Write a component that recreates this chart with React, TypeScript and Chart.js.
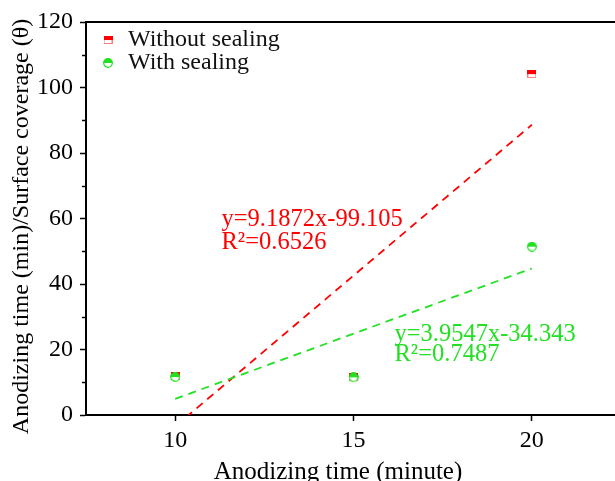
import React, { useEffect, useRef } from 'react';
import { Chart, registerables } from 'chart.js';

Chart.register(...registerables);

// ---- data ----
const seriesNames = ['Without sealing', 'With sealing'];
const anodizingTime = [10, 15, 20];
const withoutSealing = [12.0, 11.6, 104.1];
const withSealing = [11.6, 11.5, 51.4];
const xTickValues = [10, 15, 20];
const yTickValues = [0, 20, 40, 60, 80, 100, 120];
const yMinorTickValues = [10, 30, 50, 70, 90, 110];
const fitLabelsWithout = ['y=9.1872x-99.105', 'R²=0.6526'];
const fitLabelsWith = ['y=3.9547x-34.343', 'R²=0.7487'];
const xTitle = 'Anodizing time (minute)';
const yTitle = 'Anodizing time (min)/Surface coverage (θ)';

const RED = '#ff0000';
const GREEN = '#22e022';
const FONT = "'Liberation Serif', 'Times New Roman', serif";

function linearFit(xs: number[], ys: number[]) {
  const n = xs.length;
  const mx = xs.reduce((a, b) => a + b, 0) / n;
  const my = ys.reduce((a, b) => a + b, 0) / n;
  let sxy = 0, sxx = 0;
  for (let i = 0; i < n; i++) {
    sxy += (xs[i] - mx) * (ys[i] - my);
    sxx += (xs[i] - mx) * (xs[i] - mx);
  }
  const slope = sxy / sxx;
  const icpt = my - slope * mx;
  const x0 = Math.min(...xs), x1 = Math.max(...xs);
  return [{ x: x0, y: slope * x0 + icpt }, { x: x1, y: slope * x1 + icpt }];
}

function makeSquare(fill: string, edge: string) {
  const c = document.createElement('canvas');
  c.width = 9; c.height = 8;
  const g = c.getContext('2d')!;
  g.fillStyle = '#ffffff';
  g.fillRect(0, 0, 9, 8);
  g.strokeStyle = edge; g.lineWidth = 1;
  g.strokeRect(0.5, 0.5, 8, 7);
  g.fillStyle = fill;
  g.fillRect(0, 0, 9, 4);
  return c;
}

function makeHalfCircle(fill: string) {
  const c = document.createElement('canvas');
  c.width = 10; c.height = 10;
  const g = c.getContext('2d')!;
  g.beginPath(); g.arc(5, 5, 4.3, 0, Math.PI * 2);
  g.fillStyle = '#ffffff'; g.fill();
  g.strokeStyle = fill; g.lineWidth = 1.2; g.stroke();
  g.beginPath(); g.arc(5, 5, 4.6, Math.PI, 0); g.closePath();
  g.fillStyle = fill; g.fill();
  return c;
}

export default function App() {
  const ref = useRef<HTMLCanvasElement | null>(null);

  useEffect(() => {
    if (!ref.current) return;
    const squareImg = makeSquare(RED, '#ff7a7a');
    const circleImg = makeHalfCircle(GREEN);

    const decorations = {
      id: 'decorations',
      afterDraw(chart: any) {
        const { ctx, chartArea, scales } = chart;
        const xs = scales.x, ys = scales.y;
        ctx.save();
        // top frame
        ctx.strokeStyle = '#000';
        ctx.lineWidth = 2;
        ctx.beginPath();
        ctx.moveTo(chartArea.left - 1, chartArea.top);
        ctx.lineTo(chartArea.right + 2, chartArea.top);
        ctx.stroke();
        // minor ticks on y
        ctx.lineWidth = 1.5;
        yMinorTickValues.forEach((v) => {
          const py = Math.round(ys.getPixelForValue(v)) + 0.5;
          ctx.beginPath();
          ctx.moveTo(chartArea.left - 4, py);
          ctx.lineTo(chartArea.left, py);
          ctx.stroke();
        });
        // axis titles
        ctx.fillStyle = '#000';
        ctx.textAlign = 'center';
        ctx.textBaseline = 'middle';
        ctx.font = `25px ${FONT}`;
        ctx.fillText(xTitle, chartArea.left + 252, chartArea.bottom + 57);
        ctx.save();
        ctx.translate(22, (chartArea.top + chartArea.bottom) / 2 + 8);
        ctx.rotate(-Math.PI / 2);
        ctx.font = `24px ${FONT}`;
        ctx.fillText(yTitle, 0, 0);
        ctx.restore();
        // legend
        ctx.font = `24px ${FONT}`;
        ctx.textBaseline = 'middle';
        ctx.textAlign = 'left';
        ctx.fillStyle = '#111';
        const imgs = [squareImg, circleImg];
        seriesNames.forEach((name, i) => {
          const cy = chartArea.top + 18 + i * 23;
          const img = imgs[i];
          ctx.drawImage(img, chartArea.left + 22 - img.width / 2, cy - img.height / 2);
          ctx.fillText(name, chartArea.left + 42, cy);
        });
        // fit equations
        ctx.textBaseline = 'alphabetic';
        ctx.font = `24.5px ${FONT}`;
        ctx.fillStyle = RED;
        ctx.fillText(fitLabelsWithout[0], xs.getPixelForValue(11.3), ys.getPixelForValue(57.7));
        ctx.fillText(fitLabelsWithout[1], xs.getPixelForValue(11.3), ys.getPixelForValue(50.6));
        ctx.fillStyle = GREEN;
        ctx.fillText(fitLabelsWith[0], xs.getPixelForValue(16.15), ys.getPixelForValue(22.6));
        ctx.fillText(fitLabelsWith[1], xs.getPixelForValue(16.15), ys.getPixelForValue(16.4));
        ctx.restore();
      },
    };

    const chart = new Chart(ref.current, {
      type: 'scatter',
      data: {
        datasets: [
          {
            type: 'line',
            label: 'fit without',
            data: linearFit(anodizingTime, withoutSealing),
            borderColor: RED,
            borderWidth: 1.8,
            borderDash: [8, 6],
            pointRadius: 0,
            fill: false,
            order: 3,
          },
          {
            type: 'line',
            label: 'fit with',
            data: linearFit(anodizingTime, withSealing),
            borderColor: GREEN,
            borderWidth: 1.8,
            borderDash: [8, 6],
            pointRadius: 0,
            fill: false,
            order: 2,
          },
          {
            label: seriesNames[0],
            data: anodizingTime.map((x, i) => ({ x, y: withoutSealing[i] })),
            pointStyle: squareImg as any,
            pointRadius: 5,
            order: 1,
          },
          {
            label: seriesNames[1],
            data: anodizingTime.map((x, i) => ({ x, y: withSealing[i] })),
            pointStyle: circleImg as any,
            pointRadius: 5,
            order: 0,
          },
        ],
      },
      options: {
        responsive: false,
        animation: false,
        layout: { padding: { top: 22, right: 1, left: 0, bottom: 0 } },
        plugins: { legend: { display: false }, tooltip: { enabled: false } },
        scales: {
          x: {
            type: 'linear',
            min: 7.5,
            max: 22.5,
            afterBuildTicks: (s: any) => { s.ticks = xTickValues.map((v) => ({ value: v })); },
            afterFit: (s: any) => { s.height = 66; },
            grid: { drawOnChartArea: false, drawTicks: true, tickLength: 6, tickWidth: 1.5, tickColor: '#000' },
            border: { display: true, color: '#000', width: 2 },
            ticks: { color: '#000', font: { family: FONT, size: 24 }, padding: 5, maxRotation: 0 },
            title: { display: false },
          },
          y: {
            type: 'linear',
            min: 0,
            max: 120,
            afterBuildTicks: (s: any) => { s.ticks = yTickValues.map((v) => ({ value: v })); },
            afterFit: (s: any) => { s.width = 86; },
            grid: { drawOnChartArea: false, drawTicks: true, tickLength: 6, tickWidth: 1.5, tickColor: '#000' },
            border: { display: true, color: '#000', width: 2 },
            ticks: { color: '#000', font: { family: FONT, size: 24 }, padding: 7 },
            title: { display: false },
          },
        },
      },
      plugins: [decorations],
    } as any);
    return () => chart.destroy();
  }, []);

  return (
    <div style={{ position: 'fixed', left: 0, top: 0, width: 615, height: 481, overflow: 'hidden', background: '#fff' }}>
      <canvas ref={ref} width={627} height={481} style={{ display: 'block' }} />
    </div>
  );
}
